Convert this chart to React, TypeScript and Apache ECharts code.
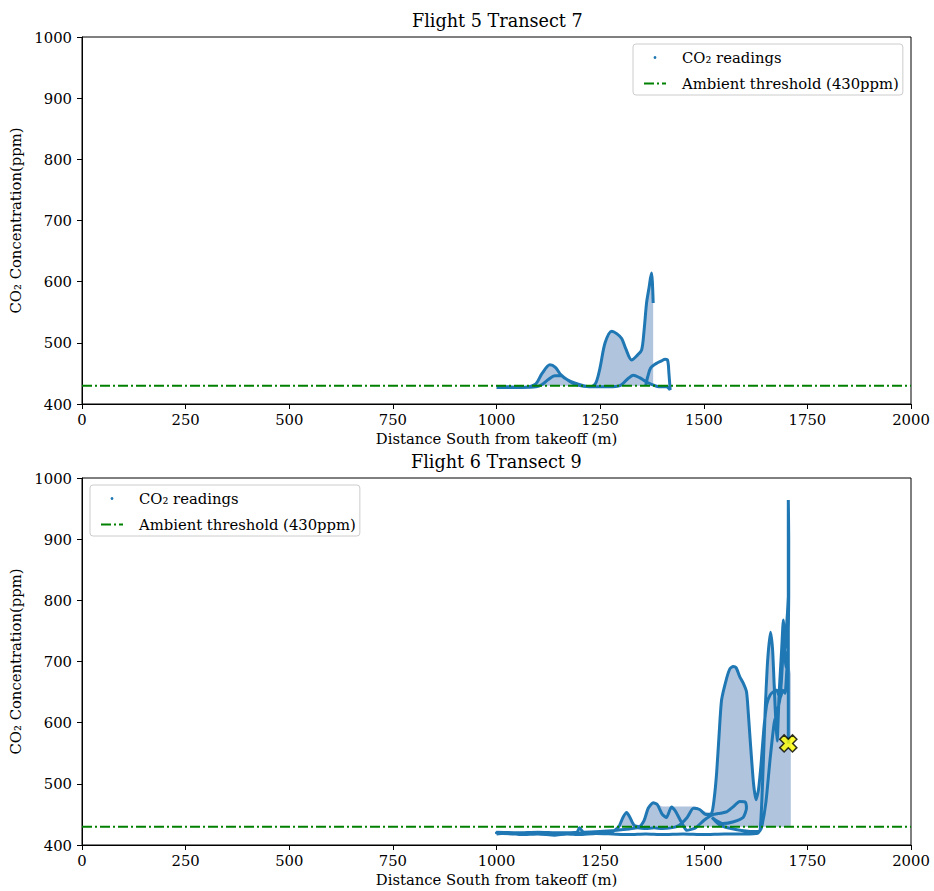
import React, { useEffect, useRef } from "react";
import * as echarts from "echarts";

const FONT = "DejaVu Serif";

// Axis ranges / ticks
const xMin = 0;
const xMax = 2000;
const xStep = 250;
const yMin = 400;
const yMax = 1000;
const yStep = 100;

const titles = ["Flight 5 Transect 7", "Flight 6 Transect 9"];
const readingsName = "CO₂ readings";
const thresholdName = "Ambient threshold (430ppm)";
const ambient = 430;

// Flight 5 — trajectory of readings (null = gap)
const f5Distance = [
  1000, 1040, 1075, 1095, 1110, 1129, 1142, 1155, 1170, 1190, 1210, 1228, 1240, 1250, 1262, 1278, 1290, 1302, 1312, 1326,
  1340, 1350, 1356, 1362, 1368, 1374, 1376, 1378, 1378,
  1360, 1365, 1372, 1385, 1397, 1407, 1413, 1416, 1419,
  1410, 1400, 1386, 1362, 1345, 1330, 1315, 1298, 1270, 1240, 1210, 1190, 1170, 1155, 1141, 1125, 1110, 1095, 1060, 1030, 1000,
];
const f5Co2 = [
  427, 427, 428, 433, 450, 464, 460, 448, 440, 434, 430, 428, 435, 460, 500, 519, 515, 507, 490, 472,
  480, 488, 520, 565, 590, 614, 600, 565, null,
  430, 445, 459, 466, 470, 473, 471, 450, 423,
  428, 428, 429, 436, 443, 447, 440, 430, 428, 428, 429, 432, 440, 446, 446, 440, 432, 428, 427, 428, 428,
];
// Flight 5 — shaded area above ambient
const f5FillDistance = [
  1085, 1095, 1110, 1129, 1142, 1155, 1170, 1190, 1210, 1232, 1240, 1250, 1262, 1278, 1290, 1302, 1312, 1326, 1340, 1350,
  1356, 1362, 1368, 1374, 1376, 1378, 1378,
];
const f5FillCo2 = [
  430, 433, 450, 464, 460, 448, 442, 434, 430, 430, 435, 460, 500, 519, 515, 507, 490, 472, 480, 488,
  520, 565, 590, 614, 600, 565, 430,
];

// Flight 6 — trajectory of readings
const f6Distance = [
  // outbound, low
  1000, 1030, 1060, 1100, 1140, 1170, 1200, 1240, 1280, 1320, 1360, 1400, 1450, 1500, 1550, 1600, 1630, 1636, 1640, 1644,
  1648, 1654, 1661, 1666, 1670, 1674, 1677, 1682, 1688, 1692, 1695, 1698, 1702, 1704, 1704, 1704, 1705, 1705,
  // return
  1703, 1700, 1696, 1691, 1684, 1676, 1667, 1660, 1652, 1645, 1638, 1632, 1626, 1620, 1612, 1606, 1603, 1595, 1587, 1578,
  1571, 1563, 1555, 1543, 1537, 1531, 1525, 1519, 1505, 1490, 1475, 1460, 1440, 1420, 1400, 1380, 1360, 1340, 1320, 1290,
  1250, 1210, 1200, 1194, 1150, 1100, 1050, 1000,
  // second outbound
  1000, 1080, 1150, 1230, 1280, 1295, 1305, 1314, 1322, 1332, 1345, 1356, 1366, 1378, 1388, 1400, 1410, 1422, 1432, 1443,
  1452, 1459, 1480, 1500, 1519, 1540, 1555, 1570, 1587, 1600, 1603, 1595, 1572, 1547, 1530, 1520, 1540, 1580, 1620, 1634,
  1640, 1650, 1660, 1670, 1678, 1684, 1690, 1693, 1696, 1698, 1702, 1704, 1704,
];
const f6Co2 = [
  418, 420, 417, 418, 416, 418, 417, 419, 418, 417, 418, 417, 418, 417, 418, 418, 419, 425, 470, 540,
  616, 700, 748, 720, 660, 600, 570, 650, 720, 768, 720, 690, 700, 800, 900, 964, 900, 806,
  720, 681, 648, 653, 640, 653, 650, 645, 630, 590, 530, 490, 474, 501, 572, 630, 651, 665, 675, 690,
  692, 688, 672, 637, 580, 517, 475, 452, 450, 458, 460, 445, 432, 428, 427, 428, 427, 428, 426, 424,
  422, 421, 428, 421, 420, 421, 420, 421,
  419, 418, 419, 420, 422, 430, 445, 453, 445, 432, 430, 440, 460, 469, 466, 450, 445, 462, 455, 441,
  430, 424, 428, 440, 449, 452, 454, 462, 471, 470, 460, 445, 438, 435, 440, 445, 432, 425, 422, 422,
  430, 470, 540, 600, 620, 640, 700, 760, 720, 740, 780, 806, 566,
];
// Flight 6 — shaded area above ambient
const f6FillDistance = [
  1293, 1305, 1314, 1322, 1334, 1354, 1366, 1378, 1390, 1400, 1480, 1500, 1519, 1525, 1531, 1537, 1543, 1555, 1563, 1571,
  1578, 1587, 1595, 1603, 1606, 1612, 1620, 1626, 1632, 1638, 1645, 1652, 1656, 1661, 1666, 1670, 1676, 1684, 1688, 1692,
  1696, 1700, 1705, 1710, 1710,
];
const f6FillCo2 = [
  430, 445, 453, 445, 430, 430, 458, 469, 466, 463, 463, 455, 452, 475, 517, 580, 637, 672, 688, 692,
  690, 675, 665, 651, 630, 572, 501, 474, 490, 530, 600, 630, 700, 748, 720, 670, 653, 650, 720, 768,
  720, 700, 700, 680, 430,
];
// Flight 6 — final reading marker
const f6MarkDistance = [1704];
const f6MarkCo2 = [566];

const thresholdDistance = [xMin, xMax];
const thresholdCo2 = [ambient, ambient];

const zip = (xs: number[], ys: (number | null)[]) =>
  xs.map((x, i) => [x, ys[i] === null ? "-" : ys[i]]);

const BLUE = "#1f77b4";
const FILL = "#b0c4de";
const GREEN = "#008000";
const X_PATH =
  "path://M-1.2,-3.5 L1.2,-3.5 L1.2,-1.2 L3.5,-1.2 L3.5,1.2 L1.2,1.2 L1.2,3.5 L-1.2,3.5 L-1.2,1.2 L-3.5,1.2 L-3.5,-1.2 L-1.2,-1.2 Z";

const gridTops = [37, 478];
const GRID_LEFT = 82;
const GRID_W = 829;
const GRID_H = 367;
const smoothing = [0.3, 0.2];

export default function App() {
  const ref = useRef<HTMLDivElement>(null);

  useEffect(() => {
    if (!ref.current) return;
    const chart = echarts.init(ref.current, undefined, { renderer: "svg" });

    const textBase = { fontFamily: FONT, fontSize: 14.8, color: "#000" };
    const plain = (v: number) => String(v);

    const xAxes = [0, 1].map((i) => ({
      type: "value",
      gridIndex: i,
      min: xMin,
      max: xMax,
      interval: xStep,
      name: "Distance South from takeoff (m)",
      nameLocation: "middle",
      nameGap: 27,
      nameTextStyle: { ...textBase },
      axisLine: { show: true, onZero: false, lineStyle: { color: "#000", width: 1 } },
      axisTick: { show: true, length: 5, lineStyle: { color: "#000", width: 1 } },
      axisLabel: { ...textBase, margin: 8, formatter: plain },
      splitLine: { show: false },
    }));
    const yAxes = [0, 1].map((i) => ({
      type: "value",
      gridIndex: i,
      min: yMin,
      max: yMax,
      interval: yStep,
      name: "CO₂ Concentration(ppm)",
      nameLocation: "middle",
      nameGap: 53,
      nameTextStyle: { ...textBase },
      axisLine: { show: true, onZero: false, lineStyle: { color: "#000", width: 1 } },
      axisTick: { show: true, length: 5, lineStyle: { color: "#000", width: 1 } },
      axisLabel: { ...textBase, margin: 10, formatter: plain },
      splitLine: { show: false },
    }));

    const fills = [zip(f5FillDistance, f5FillCo2), zip(f6FillDistance, f6FillCo2)];
    const readings = [zip(f5Distance, f5Co2), zip(f6Distance, f6Co2)];

    const series: any[] = [];
    [0, 1].forEach((i) => {
      series.push({
        name: "fill" + i,
        type: "line",
        xAxisIndex: i,
        yAxisIndex: i,
        data: fills[i],
        symbol: "none",
        silent: true,
        lineStyle: { width: 0, opacity: 0 },
        areaStyle: { color: FILL, opacity: 1, origin: ambient },
        z: 1,
      });
      series.push({
        name: readingsName,
        type: "line",
        xAxisIndex: i,
        yAxisIndex: i,
        data: readings[i],
        symbol: "circle",
        showSymbol: false,
        smooth: smoothing[i],
        connectNulls: false,
        lineStyle: { color: BLUE, width: 3 },
        itemStyle: { color: BLUE },
        z: 2,
      });
      series.push({
        name: thresholdName,
        type: "line",
        xAxisIndex: i,
        yAxisIndex: i,
        data: zip(thresholdDistance, thresholdCo2),
        symbol: "none",
        lineStyle: { color: GREEN, width: 2, type: [10, 3, 2, 3] },
        itemStyle: { color: GREEN },
        z: 3,
      });
    });
    series.push({
      name: "final",
      type: "scatter",
      xAxisIndex: 1,
      yAxisIndex: 1,
      data: zip(f6MarkDistance, f6MarkCo2),
      symbol: X_PATH,
      symbolSize: 18,
      symbolRotate: 45,
      itemStyle: { color: "#ffff00", borderColor: "#000", borderWidth: 1.5 },
      z: 4,
    });

    const legendCommon = {
      orient: "vertical",
      itemWidth: 22,
      itemHeight: 3.5,
      itemGap: 9,
      padding: [5, 4, 3, 10],
      borderColor: "#cccccc",
      borderWidth: 1,
      borderRadius: 3,
      backgroundColor: "rgba(255,255,255,0.8)",
      textStyle: { ...textBase, lineHeight: 17, padding: [0, 0, 0, 11] },
      selectedMode: false,
      data: [
        { name: readingsName, lineStyle: { opacity: 0 }, itemStyle: { color: BLUE } },
        { name: thresholdName, itemStyle: { opacity: 0 } },
      ],
    };

    chart.setOption({
      animation: false,
      backgroundColor: "#fff",
      title: titles.map((t, i) => ({
        text: t,
        left: i === 0 ? 412 : 411,
        top: i === 0 ? 12 : 453,
        padding: 0,
        textStyle: { fontFamily: FONT, fontSize: 17.6, fontWeight: "normal", color: "#000" },
      })),
      legend: [
        { ...legendCommon, left: 633, top: 44 },
        { ...legendCommon, left: 90, top: 485 },
      ],
      grid: gridTops.map((t) => ({
        left: GRID_LEFT,
        top: t,
        width: GRID_W,
        height: GRID_H,
        show: true,
        borderColor: "#000",
        borderWidth: 1,
        backgroundColor: "transparent",
        containLabel: false,
      })),
      xAxis: xAxes,
      yAxis: yAxes,
      series,
    });

    return () => chart.dispose();
  }, []);

  return (
    <div
      ref={ref}
      style={{ position: "absolute", left: 0, top: 0, width: 934, height: 891 }}
    />
  );
}
